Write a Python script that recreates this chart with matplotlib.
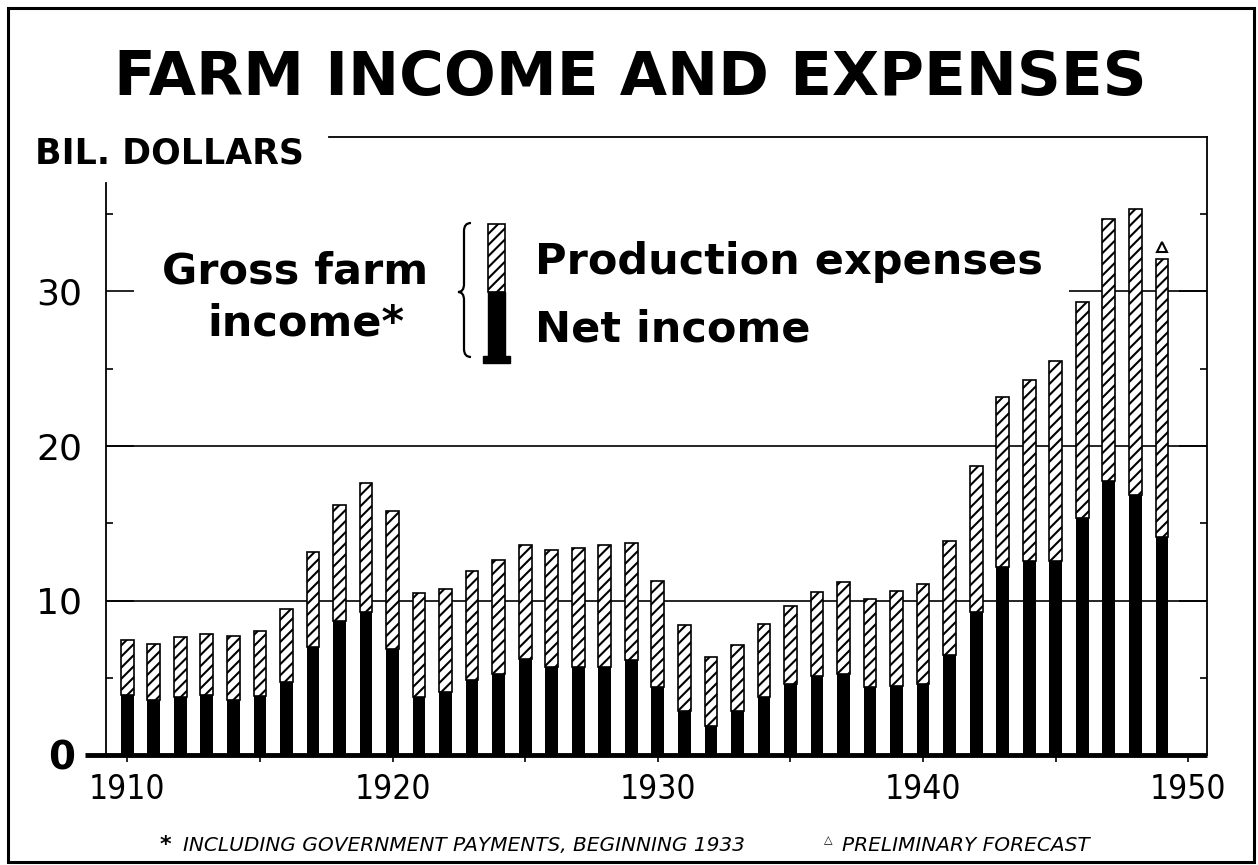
import matplotlib
matplotlib.use('Agg')
import matplotlib.pyplot as plt
from matplotlib.patches import Rectangle, PathPatch
from matplotlib.path import Path
from matplotlib.transforms import ScaledTranslation

# datos (miles de millones de dolares)
years = list(range(1910, 1950))
net_income = [3.87, 3.55, 3.74, 3.87, 3.55, 3.80, 4.73, 6.99, 8.70, 9.25,
              6.84, 3.76, 4.09, 4.85, 5.24, 6.19, 5.70, 5.70, 5.70, 6.14,
              4.42, 2.88, 1.90, 2.82, 3.78, 4.60, 5.11, 5.24, 4.37, 4.47,
              4.59, 6.50, 9.23, 12.20, 12.53, 12.53, 15.31, 17.74, 16.80, 14.14]
expenses = [3.55, 3.61, 3.89, 3.93, 4.13, 4.20, 4.69, 6.15, 7.48, 8.37,
            8.96, 6.73, 6.68, 7.09, 7.40, 7.41, 7.58, 7.67, 7.90, 7.61,
            6.86, 5.51, 4.45, 4.28, 4.68, 5.02, 5.46, 5.98, 5.75, 6.15,
            6.45, 7.35, 9.45, 10.95, 11.74, 12.95, 14.04, 16.95, 18.51, 17.99]
forecast_year = 1949
forecast_mark = 32.9

y_ticks = [0, 10, 20, 30]
y_minor = [5, 15, 25, 35]
x_ticks = [1910, 1920, 1930, 1940, 1950]
x_minor = [1915, 1925, 1935, 1945]

W, H = 1258, 865
plt.rcParams['hatch.linewidth'] = 1.5
plt.rcParams['font.family'] = ['DejaVu Sans']

fig = plt.figure(figsize=(W / 100, H / 100), dpi=100)
ax = fig.add_axes([106 / W, 1 - 755 / H, (1207 - 106) / W, (755 - 137) / H])


def px(x, y):
    # pixel (desde arriba-izquierda) -> fraccion de figura
    return x / W, 1 - y / H


# barras
ax.bar(years, net_income, width=0.48, color='black', zorder=3)
ax.bar(years, expenses, width=0.48, bottom=net_income, facecolor='white',
       edgecolor='black', hatch='///', linewidth=1.2, zorder=3)
ax.plot([forecast_year], [forecast_mark], marker='^', ms=7, mfc='white',
        mec='black', mew=1.5, ls='none', zorder=4)

ax.set_xlim(1909.2, 1950.7)
ax.set_ylim(0, 40)

# lineas de referencia
ax.hlines([10, 20], 1909.2, 1950.7, color='black', lw=1.2, zorder=1)
ax.hlines([30], 1945.5, 1950.7, color='black', lw=1.2, zorder=1)
ax.plot([1909.2 - 21 / 26.5, 1950.7], [0, 0], color='black', lw=3.5,
        clip_on=False, solid_capstyle='butt', zorder=5)

# ejes
for s in ['left', 'right', 'top']:
    ax.spines[s].set_linewidth(1.3)
ax.spines['bottom'].set_visible(False)
ax.spines['left'].set_bounds(0, 37.0)
ax.spines['top'].set_bounds(1917.6, 1950.7)

ax.set_yticks(y_ticks)
ax.set_yticks(y_minor, minor=True)
ax.set_yticklabels([str(v) for v in y_ticks], fontsize=26)
ax.tick_params(axis='y', which='major', direction='in', length=20, width=1.2,
               right=True, pad=17)
ax.tick_params(axis='y', which='minor', direction='in', length=5, width=1.2,
               right=True)
lbl0 = ax.get_yticklabels()[0]
lbl0.set_fontweight('bold')
lbl0.set_fontsize(28)
lbl0.set_transform(lbl0.get_transform() + ScaledTranslation(-0.07, 0, fig.dpi_scale_trans))

ax.set_xticks(x_ticks)
ax.set_xticks(x_minor, minor=True)
ax.set_xticklabels([str(v) for v in x_ticks], fontsize=24, fontstretch='condensed')
ax.tick_params(axis='x', which='both', direction='out', length=5, width=1.2, pad=8)

# textos
fig.text(630 / W, 1 - 95 / H, 'FARM INCOME AND EXPENSES', ha='center',
         va='baseline', fontsize=44, fontweight='bold')
fig.text(35 / W, 1 - 163 / H, 'BIL. DOLLARS', ha='left', va='baseline',
         fontsize=25, fontweight='bold')

fig.text(295 / W, 1 - 283 / H, 'Gross farm', ha='center', va='baseline',
         fontsize=31, fontweight='bold')
fig.text(306 / W, 1 - 336 / H, 'income*', ha='center', va='baseline',
         fontsize=31, fontweight='bold')
fig.text(535 / W, 1 - 274 / H, 'Production expenses', ha='left', va='baseline',
         fontsize=31, fontweight='bold')
fig.text(535 / W, 1 - 342 / H, 'Net income', ha='left', va='baseline',
         fontsize=31, fontweight='bold')

# llave
xl, xm, xr = 458, 464, 471
yt, ymid, yb = 223, 292, 357
codes = [Path.MOVETO, Path.CURVE3, Path.CURVE3, Path.LINETO,
         Path.LINETO, Path.CURVE3, Path.CURVE3,
         Path.LINETO, Path.CURVE3, Path.CURVE3,
         Path.LINETO, Path.LINETO, Path.CURVE3, Path.CURVE3, Path.LINETO]
verts = [(xr, yt), (xm, yt), (xm, yt + 8), (xm, yt + 8),
         (xm, ymid - 8), (xm, ymid), (xl, ymid),
         (xl, ymid), (xm, ymid), (xm, ymid + 8),
         (xm, ymid + 8), (xm, yb - 8), (xm, yb), (xr, yb), (xr, yb)]
brace = Path([px(*v) for v in verts], codes)
fig.patches.append(PathPatch(brace, transform=fig.transFigure, fill=False,
                             lw=1.6, edgecolor='black'))

# icono de la leyenda
x0, y0 = px(488, 292)
x1, y1 = px(505, 224)
fig.patches.append(Rectangle((x0, y0), x1 - x0, y1 - y0, transform=fig.transFigure,
                             facecolor='white', edgecolor='black', hatch='///', lw=1.2))
x0, y0 = px(488, 358)
x1, y1 = px(505, 292)
fig.patches.append(Rectangle((x0, y0), x1 - x0, y1 - y0, transform=fig.transFigure,
                             facecolor='black', edgecolor='black', lw=1))
x0, y0 = px(483, 363)
x1, y1 = px(510, 356)
fig.patches.append(Rectangle((x0, y0), x1 - x0, y1 - y0, transform=fig.transFigure,
                             facecolor='black', edgecolor='black', lw=1))

# notas al pie
fig.text(160 / W, 1 - 851 / H, '*', ha='left', va='baseline', fontsize=16,
         fontweight='bold')
fig.text(183 / W, 1 - 851 / H, 'INCLUDING GOVERNMENT PAYMENTS, BEGINNING 1933',
         ha='left', va='baseline', fontsize=14.5, style='italic')
fig.text(824 / W, 1 - 843 / H, '\u25b3', ha='left', va='baseline', fontsize=8)
fig.text(842 / W, 1 - 851 / H, 'PRELIMINARY FORECAST', ha='left', va='baseline',
         fontsize=14.5, style='italic')

# marco exterior
x0, y0 = px(8, 862)
x1, y1 = px(1254, 8)
fig.patches.append(Rectangle((x0, y0), x1 - x0, y1 - y0, transform=fig.transFigure,
                             fill=False, edgecolor='black', lw=2.2))

fig.savefig('out.png', dpi=100)
